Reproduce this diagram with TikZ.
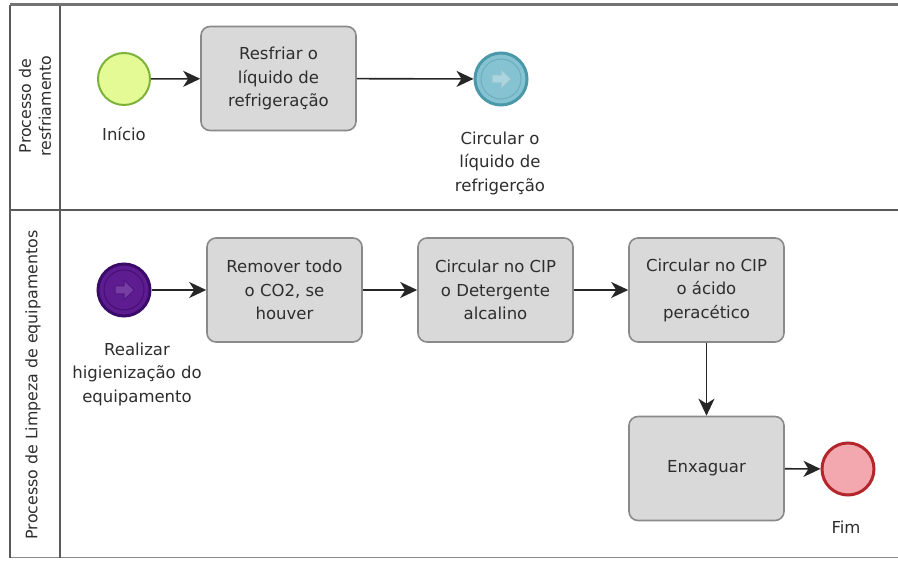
\documentclass[tikz,border=0pt]{standalone}
\usepackage{fontspec}
\setmainfont{DejaVu Sans}
\usetikzlibrary{arrows.meta,calc}
\definecolor{taskfill}{HTML}{D9D9D9}
\definecolor{taskdraw}{HTML}{8A8A8A}
\definecolor{startfill}{HTML}{E4FA94}
\definecolor{startdraw}{HTML}{7DB23A}
\definecolor{bluefill}{HTML}{86C3D2}
\definecolor{bluedraw}{HTML}{4A98AA}
\definecolor{purpfill}{HTML}{5E1C91}
\definecolor{purpdraw}{HTML}{3A0B68}
\definecolor{endfill}{HTML}{F3A7AE}
\definecolor{enddraw}{HTML}{B3262C}
\definecolor{txt}{HTML}{2E2E2E}
\definecolor{frame}{HTML}{5A5A5A}
\tikzset{
  task/.style={draw=taskdraw, fill=taskfill, line width=1.6pt, rounded corners=9pt,
    minimum width=155pt, minimum height=104pt, align=center, text=txt,
    font=\fontsize{16.5}{23.5}\selectfont, inner sep=2pt},
  evt/.style={circle, minimum size=52pt, inner sep=0pt},
  lbl/.style={align=center, text=txt, font=\fontsize{16.5}{23.5}\selectfont},
  flow/.style={line width=1.6pt, draw=black!85, -{Stealth[length=17pt,width=16pt,inset=5pt]}},
  lane/.style={text=txt, align=center, font=\fontsize{15.8}{20}\selectfont, rotate=90}
}
\begin{document}
\begin{tikzpicture}[x=1pt,y=-1pt]
\useasboundingbox (0,0) rectangle (898,561);
\fill[white] (0,0) rectangle (898,561);
% frame
\draw[frame!70, line width=1pt] (10,557) -- (898,557);
\draw[frame, line width=2pt] (10,5) -- (10,558);
\draw[frame, line width=2.5pt] (60,5) -- (60,558);
\draw[frame!85, line width=3pt] (10,5) -- (898,5);
\draw[frame, line width=2pt] (10,210) -- (898,210);
% lane labels
\node[lane] (l1) at (35,106) {Processo de\\resfriamento};
\node[lane] (l2) at (33,385) {Processo de Limpeza de equipamentos};
% lane 1
\node[evt, draw=startdraw, fill=startfill, line width=2pt] (start) at (124,79) {};
\node[lbl, anchor=north] (startl) at (124,124) {Início};
\node[task] (t1) at (278.5,78.5) {Resfriar o\\líquido de\\refrigeração};
\node[evt, draw=bluedraw, fill=bluefill, line width=3pt] (ev1) at (501,79) {};
\draw[bluedraw!80, line width=1pt] (ev1) circle (20pt);
\draw[bluedraw!60, line width=1pt, fill=bluefill!70] ($(ev1)+(-9,-4)$) -- ++(9,0) -- ++(0,-6) -- ++(10,10) -- ++(-10,10) -- ++(0,-6) -- ++(-9,0) -- cycle;
\node[lbl, anchor=north] (ev1l) at (500,128) {Circular o\\líquido de\\refrigerção};
% lane 2
\node[evt, draw=purpdraw, fill=purpfill, line width=3pt] (ev2) at (124,290) {};
\draw[purpdraw!70!purpfill, line width=1pt] (ev2) circle (20pt);
\draw[purpdraw!40!purpfill, line width=1pt, fill=purpfill!85!white] ($(ev2)+(-9,-4)$) -- ++(9,0) -- ++(0,-6) -- ++(10,10) -- ++(-10,10) -- ++(0,-6) -- ++(-9,0) -- cycle;
\node[lbl, anchor=north] (ev2l) at (137,339) {Realizar\\higienização do\\equipamento};
\node[task] (t2) at (284.5,290) {Remover todo\\o CO2, se\\houver};
\node[task] (t3) at (495.5,290) {Circular no CIP\\o Detergente\\alcalino};
\node[task] (t4) at (706.5,290) {Circular no CIP\\o ácido\\peracético};
\node[task] (t5) at (706.5,468.5) {Enxaguar};
\node[evt, draw=enddraw, fill=endfill, line width=3pt] (end) at (848,469) {};
\node[lbl, anchor=north] (endl) at (846,517) {Fim};
% flows
\draw[flow] (start) -- (t1);
\draw[flow] (t1) -- (ev1);
\draw[flow] (ev2) -- (t2);
\draw[flow] (t2) -- (t3);
\draw[flow] (t3) -- (t4);
\draw[flow] (t4) -- (t5);
\draw[flow] (t5) -- (end);
\end{tikzpicture}
\end{document}
